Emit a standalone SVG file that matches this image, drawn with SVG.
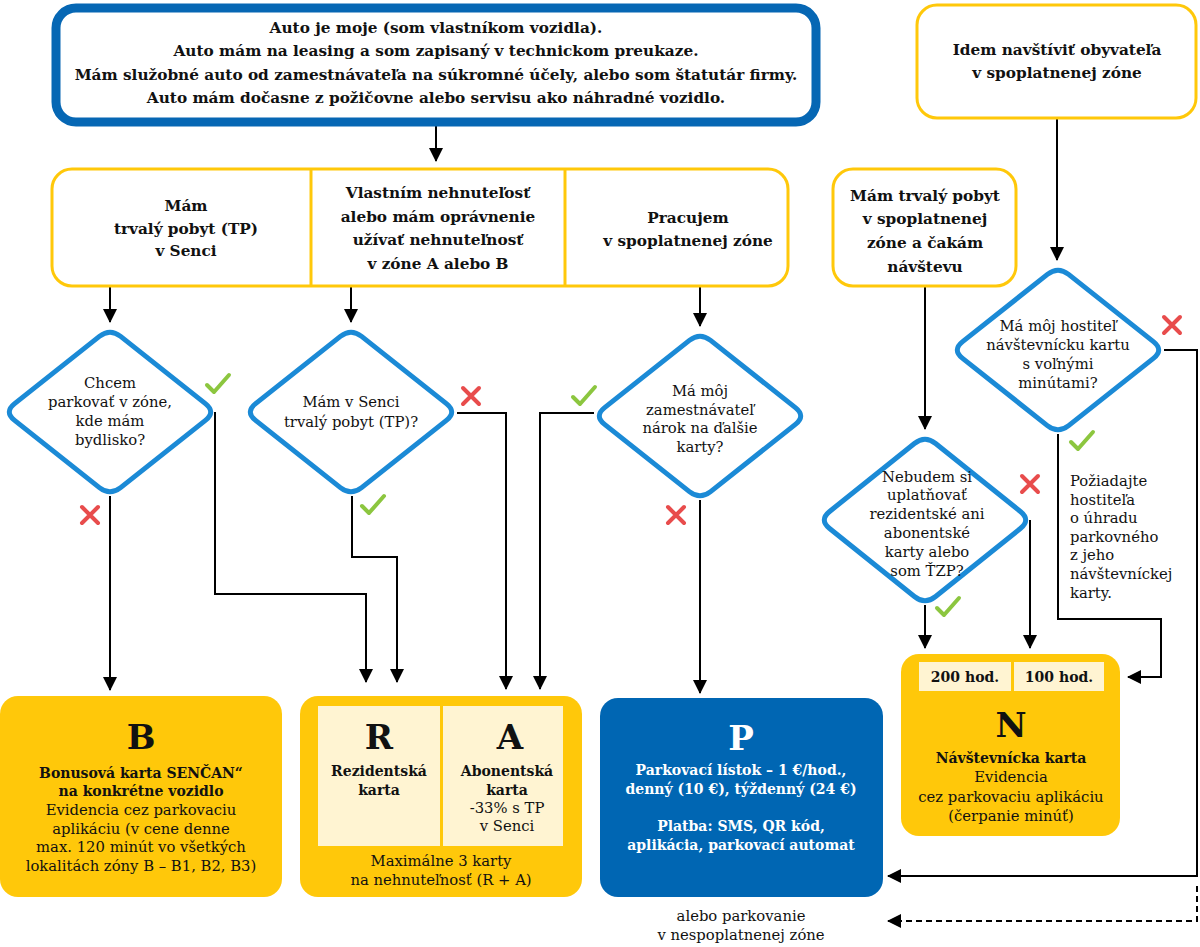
<svg xmlns="http://www.w3.org/2000/svg" width="1200" height="947" viewBox="0 0 1200 947">
<defs>
<marker id="arr" viewBox="0 0 14 14" refX="13" refY="7" markerWidth="14" markerHeight="14" markerUnits="userSpaceOnUse" orient="auto">
<path d="M0,0 L14,7 L0,14 z" fill="#000"/>
</marker>
<path id="chk" d="M-11,1 L-4,8 L11,-9" fill="none" stroke="#8cc63f" stroke-width="4" stroke-linecap="round" stroke-linejoin="round"/>
<path id="crs" d="M-8,-8 L8,8 M8,-8 L-8,8" fill="none" stroke="#e84c4c" stroke-width="4" stroke-linecap="round"/>
</defs>
<style>
text{font-family:"DejaVu Serif","Liberation Serif",serif;text-anchor:middle;fill:#111}
.h{font-weight:bold;font-size:15.3px}
.c{font-weight:bold;font-size:14px}
.q{font-size:14.8px}
.r{font-size:14.8px}
.big{font-weight:bold;font-size:34px}
.w{fill:#fff}
.l{text-anchor:start}
.dia{fill:#fff;stroke:#1b8ad6;stroke-width:5}
.yb{fill:#fff;stroke:#ffc80a;stroke-width:3}
.card{fill:#ffc80a}
.cream{fill:#fff4d2}
.con{fill:none;stroke:#000;stroke-width:2}
</style>
<rect width="1200" height="947" fill="#fff"/>

<g id="connectors">
<path class="con" d="M436,126 V161" marker-end="url(#arr)"/>
<path class="con" d="M110,286 V322" marker-end="url(#arr)"/>
<path class="con" d="M351,286 V322" marker-end="url(#arr)"/>
<path class="con" d="M700,286 V326" marker-end="url(#arr)"/>
<path class="con" d="M1057,118 V260" marker-end="url(#arr)"/>
<path class="con" d="M925,286 V429" marker-end="url(#arr)"/>
<path class="con" d="M110,496 V690" marker-end="url(#arr)"/>
<path class="con" d="M215,412 V594 H366 V682" marker-end="url(#arr)"/>
<path class="con" d="M352,496 V557 H397 V682" marker-end="url(#arr)"/>
<path class="con" d="M457,413 H506 V689" marker-end="url(#arr)"/>
<path class="con" d="M594,413 H540 V689" marker-end="url(#arr)"/>
<path class="con" d="M700,500 V693" marker-end="url(#arr)"/>
<path class="con" d="M925,605 V648" marker-end="url(#arr)"/>
<path class="con" d="M1030,520 V648" marker-end="url(#arr)"/>
<path class="con" d="M1058,434 V619 H1161 V677 H1128" marker-end="url(#arr)"/>
<path class="con" d="M1164,350 H1197 V876 H888" marker-end="url(#arr)"/>
<path class="con" d="M1197,886 V921 H888" stroke-dasharray="6,4" marker-end="url(#arr)"/>
<use href="#chk" x="218" y="384"/>
<use href="#crs" x="90" y="515"/>
<use href="#crs" x="471" y="396"/>
<use href="#chk" x="373" y="505"/>
<use href="#chk" x="584" y="396"/>
<use href="#crs" x="676" y="515"/>
<use href="#crs" x="1172" y="325"/>
<use href="#chk" x="1082" y="441"/>
<use href="#crs" x="1030" y="484"/>
<use href="#chk" x="948" y="607"/>
</g>

<g id="start">
<rect x="56" y="8" width="760" height="114" rx="20" fill="#fff" stroke="#0667b4" stroke-width="9"/>
<text class="h" x="436" y="33">Auto je moje (som vlastníkom vozidla).</text>
<text class="h" x="436" y="56">Auto mám na leasing a som zapisaný v technickom preukaze.</text>
<text class="h" x="436" y="80">Mám služobné auto od zamestnávateľa na súkromné účely, alebo som štatutár firmy.</text>
<text class="h" x="436" y="103">Auto mám dočasne z požičovne alebo servisu ako náhradné vozidlo.</text>
</g>

<g id="visit">
<rect x="917" y="5" width="279" height="113" rx="20" class="yb"/>
<text class="h" x="1057" y="55">Idem navštíviť obyvateľa</text>
<text class="h" x="1057" y="78">v spoplatnenej zóne</text>
</g>

<g id="conditions">
<rect x="52" y="169" width="736" height="117" rx="20" class="yb"/>
<line x1="311" y1="169" x2="311" y2="286" stroke="#ffc80a" stroke-width="3"/>
<line x1="565" y1="169" x2="565" y2="286" stroke="#ffc80a" stroke-width="3"/>
<text class="h" x="186" y="211">Mám</text>
<text class="h" x="186" y="234">trvalý pobyt (TP)</text>
<text class="h" x="186" y="256">v Senci</text>
<text class="h" x="438" y="198">Vlastním nehnuteľosť</text>
<text class="h" x="438" y="222">alebo mám oprávnenie</text>
<text class="h" x="438" y="245">užívať nehnuteľnosť</text>
<text class="h" x="438" y="269">v zóne A alebo B</text>
<text class="h" x="688" y="223">Pracujem</text>
<text class="h" x="688" y="246">v spoplatnenej zóne</text>
</g>

<g id="host">
<rect x="833" y="169" width="183" height="117" rx="20" class="yb"/>
<text class="h" x="925" y="201">Mám trvalý pobyt</text>
<text class="h" x="925" y="224">v spoplatnenej</text>
<text class="h" x="925" y="248">zóne a čakám</text>
<text class="h" x="925" y="272">návštevu</text>
</g>

<g id="d1">
<path class="dia" d="M99.4,336.4 Q110,328 120.6,336.4 L205.4,403.6 Q216,412 205.4,420.4 L120.6,487.6 Q110,496 99.4,487.6 L14.6,420.4 Q4,412 14.6,403.6 Z"/>
<text class="q" x="110" y="388">Chcem</text>
<text class="q" x="110" y="407">parkovať v zóne,</text>
<text class="q" x="110" y="426">kde mám</text>
<text class="q" x="110" y="445">bydlisko?</text>
</g>

<g id="d2">
<path class="dia" d="M340.4,336.4 Q351,328 361.6,336.4 L446.4,403.6 Q457,412 446.4,420.4 L361.6,487.6 Q351,496 340.4,487.6 L255.6,420.4 Q245,412 255.6,403.6 Z"/>
<text class="q" x="351" y="407">Mám v Senci</text>
<text class="q" x="351" y="427">trvalý pobyt (TP)?</text>
</g>

<g id="d3">
<path class="dia" d="M689.4,340.4 Q700,332 710.6,340.4 L795.4,407.6 Q806,416 795.4,424.4 L710.6,491.6 Q700,500 689.4,491.6 L604.6,424.4 Q594,416 604.6,407.6 Z"/>
<text class="q" x="700" y="396">Má môj</text>
<text class="q" x="700" y="415">zamestnávateľ</text>
<text class="q" x="700" y="433">nárok na ďalšie</text>
<text class="q" x="700" y="452">karty?</text>
</g>

<g id="d4">
<path class="dia" d="M1047.4,274.4 Q1058,266 1068.6,274.4 L1153.4,341.6 Q1164,350 1153.4,358.4 L1068.6,425.6 Q1058,434 1047.4,425.6 L962.6,358.4 Q952,350 962.6,341.6 Z"/>
<text class="q" x="1058" y="331">Má môj hostiteľ</text>
<text class="q" x="1058" y="350">návštevnícku kartu</text>
<text class="q" x="1058" y="369">s voľnými</text>
<text class="q" x="1058" y="388">minútami?</text>
</g>

<g id="d5">
<path class="dia" d="M914.4,443.5 Q925,435 935.6,443.5 L1020.4,511.5 Q1031,520 1020.4,528.5 L935.6,596.5 Q925,605 914.4,596.5 L829.6,528.5 Q819,520 829.6,511.5 Z"/>
<text class="q" x="927" y="482">Nebudem si</text>
<text class="q" x="927" y="500">uplatňovať</text>
<text class="q" x="927" y="519">rezidentské ani</text>
<text class="q" x="927" y="538">abonentské</text>
<text class="q" x="927" y="557">karty alebo</text>
<text class="q" x="927" y="576">som ŤZP?</text>
</g>

<g id="note">
<text class="q l" x="1070" y="486">Požiadajte</text>
<text class="q l" x="1070" y="505">hostiteľa</text>
<text class="q l" x="1070" y="523">o úhradu</text>
<text class="q l" x="1070" y="542">parkovného</text>
<text class="q l" x="1070" y="560">z jeho</text>
<text class="q l" x="1070" y="579">návštevníckej</text>
<text class="q l" x="1070" y="598">karty.</text>
</g>

<g id="cardB">
<rect x="0" y="696" width="282" height="201" rx="18" class="card"/>
<text class="big" x="141" y="749">B</text>
<text class="c" x="141" y="778">Bonusová karta SENČAN“</text>
<text class="c" x="141" y="796">na konkrétne vozidlo</text>
<text class="r" x="141" y="815">Evidencia cez parkovaciu</text>
<text class="r" x="141" y="834">aplikáciu (v cene denne</text>
<text class="r" x="141" y="852">max. 120 minút vo všetkých</text>
<text class="r" x="141" y="871">lokalitách zóny B – B1, B2, B3)</text>
</g>

<g id="cardRA">
<rect x="300" y="696" width="282" height="201" rx="18" class="card"/>
<rect x="318" y="706" width="122" height="140" class="cream"/>
<rect x="443" y="706" width="120" height="140" class="cream"/>
<text class="big" x="379" y="749">R</text>
<text class="big" x="510" y="749">A</text>
<text class="c" x="379" y="776">Rezidentská</text>
<text class="c" x="379" y="795">karta</text>
<text class="c" x="507" y="776">Abonentská</text>
<text class="c" x="507" y="795">karta</text>
<text class="r" x="507" y="813">-33% s TP</text>
<text class="r" x="507" y="831">v Senci</text>
<text class="r" x="441" y="866">Maximálne 3 karty</text>
<text class="r" x="441" y="885">na nehnuteľnosť (R + A)</text>
</g>

<g id="cardP">
<rect x="600" y="698" width="283" height="199" rx="18" fill="#0066b3"/>
<text class="big w" x="741" y="750">P</text>
<text class="c w" x="741" y="775">Parkovací lístok – 1 €/hod.,</text>
<text class="c w" x="741" y="794">denný (10 €), týždenný (24 €)</text>
<text class="c w" x="741" y="831">Platba: SMS, QR kód,</text>
<text class="c w" x="741" y="850">aplikácia, parkovací automat</text>
</g>

<g id="free">
<text class="r" x="741" y="921">alebo parkovanie</text>
<text class="r" x="741" y="940">v nespoplatnenej zóne</text>
</g>

<g id="cardN">
<rect x="901" y="654" width="219" height="182" rx="18" class="card"/>
<rect x="919" y="662" width="92" height="29" class="cream"/>
<rect x="1014" y="662" width="90" height="29" class="cream"/>
<text class="c" x="965" y="682">200 hod.</text>
<text class="c" x="1059" y="682">100 hod.</text>
<text class="big" x="1011" y="737">N</text>
<text class="c" x="1011" y="763">Návštevnícka karta</text>
<text class="r" x="1011" y="782">Evidencia</text>
<text class="r" x="1011" y="802">cez parkovaciu aplikáciu</text>
<text class="r" x="1011" y="821">(čerpanie minúť)</text>
</g>
</svg>
